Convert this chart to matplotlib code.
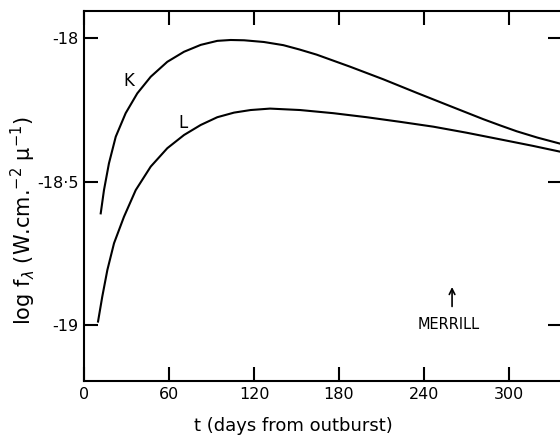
import matplotlib.pyplot as plt

plt.rcParams['font.family'] = ['DejaVu Sans']
plt.rcParams['mathtext.fontset'] = 'dejavusans'

# K band light curve
k_days = [11.8, 14.1, 17.6, 22.4, 29.4, 37.6, 47.1, 58.8, 70.6, 82.4, 94.1,
          103.5, 113, 127, 140.7, 152, 164.2, 187.8, 211.3, 234.8, 258.3,
          281.9, 294, 305.4, 320, 336]
k_flux = [-18.611, -18.530, -18.437, -18.344, -18.262, -18.193, -18.135,
          -18.083, -18.048, -18.024, -18.010, -18.007, -18.008, -18.014,
          -18.025, -18.040, -18.058, -18.100, -18.144, -18.191, -18.237,
          -18.283, -18.305, -18.325, -18.347, -18.368]

# L band light curve
l_days = [9.9, 12.9, 16.5, 21.2, 28.2, 36.5, 47.1, 58.8, 70.6, 82.4, 94.1,
          105.9, 117.6, 131.3, 152.5, 176, 199.5, 223, 246.6, 270, 293.6,
          317, 336]
l_flux = [-18.988, -18.901, -18.808, -18.715, -18.623, -18.530, -18.448,
          -18.384, -18.338, -18.303, -18.276, -18.260, -18.251, -18.246,
          -18.251, -18.262, -18.276, -18.292, -18.309, -18.330, -18.353,
          -18.376, -18.396]

x_ticks = [0, 60, 120, 180, 240, 300]
y_ticks = [-19, -18.5, -18]
y_labels = ['-19', '-18·5', '-18']

fig = plt.figure(figsize=(5.6, 4.37), dpi=100)
ax = fig.add_axes([84 / 560, 1 - 381 / 437, 478 / 560, 370 / 437])

ax.plot(k_days, k_flux, color='black', lw=1.5)
ax.plot(l_days, l_flux, color='black', lw=1.5)

ax.text(31.8, -18.15, 'K', fontsize=12, ha='center', va='center')
ax.text(69.9, -18.296, 'L', fontsize=12, ha='center', va='center')

ax.annotate('', xy=(259.8, -18.858), xytext=(259.8, -18.945),
            arrowprops=dict(arrowstyle='->', color='black', lw=1.2))
ax.text(257.6, -18.997, 'MERRILL', fontsize=10.5, ha='center', va='center')

ax.set_xlim(0, 337.4)
ax.set_ylim(-19.195, -17.906)
ax.set_xticks(x_ticks)
ax.set_yticks(y_ticks)
ax.set_yticklabels(y_labels)
ax.tick_params(direction='in', length=10, width=1.5, top=True, right=True,
               labelsize=11.5)
ax.tick_params(axis='y', pad=4)
ax.tick_params(axis='x', pad=4)
for s in ax.spines.values():
    s.set_linewidth(1.5)

fig.text(293 / 560, 1 - 431 / 437, 't (days from outburst)', fontsize=13,
         ha='center', va='baseline')
fig.text(23 / 560, 1 - 221 / 437,
         r'log f$_\lambda$ (W.cm.$^{-2}$ μ$^{-1}$)', fontsize=15,
         rotation=90, ha='center', va='center')

fig.savefig('out.png', dpi=100)
